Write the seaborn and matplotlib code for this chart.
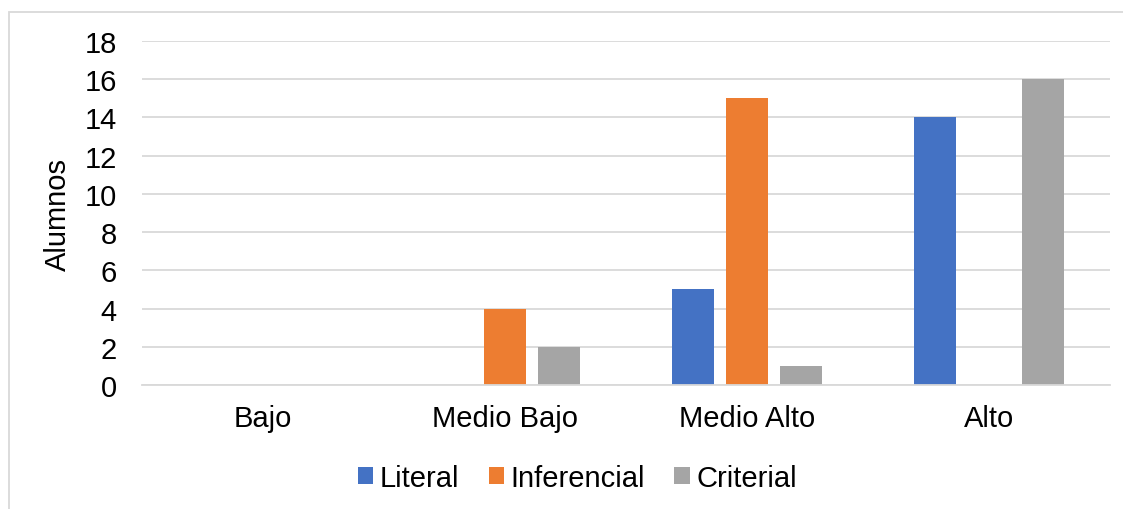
import matplotlib
matplotlib.use("Agg")
import matplotlib.pyplot as plt
from matplotlib.patches import Rectangle
import seaborn as sns
import pandas as pd

categories = ["Bajo", "Medio Bajo", "Medio Alto", "Alto"]
literal = [0, 0, 5, 14]
inferencial = [0, 4, 15, 0]
criterial = [0, 2, 1, 16]
series_names = ["Literal", "Inferencial", "Criterial"]
colors = ["#4472C4", "#ED7D31", "#A5A5A5"]
y_ticks = [0, 2, 4, 6, 8, 10, 12, 14, 16, 18]

df = pd.DataFrame({
    "Nivel": categories * 3,
    "Tipo": [s for s in series_names for _ in categories],
    "Alumnos": literal + inferencial + criterial,
})

sns.set_theme(style="white")
plt.rcParams["font.family"] = ["Liberation Sans", "DejaVu Sans"]
plt.rcParams["text.color"] = "#000000"

fig = plt.figure(figsize=(11.23, 5.10), dpi=100)
ax = fig.add_axes([0.1264, 0.2431, 0.862, 0.6745])

sns.barplot(data=df, x="Nivel", y="Alumnos", hue="Tipo", order=categories,
            hue_order=series_names, palette=colors, width=0.669, gap=0.222,
            saturation=1, linewidth=0, ax=ax, legend=True)

ax.set_ylim(0, 18)
ax.set_xlim(-0.5, 3.5)
ax.set_yticks(y_ticks)
ax.set_yticklabels([str(t) for t in y_ticks])
ax.yaxis.grid(True, color="#D9D9D9", linewidth=1.3)
ax.set_axisbelow(True)
for side in ["left", "right", "top"]:
    ax.spines[side].set_visible(False)
ax.spines["bottom"].set_color("#D9D9D9")
ax.spines["bottom"].set_linewidth(1.3)
ax.tick_params(axis="y", labelsize=21, labelcolor="#000000", length=0, pad=18)
ax.tick_params(axis="x", labelsize=21, labelcolor="#000000", length=0, pad=14)
ax.set_xlabel("")
ax.set_ylabel("Alumnos", fontsize=21, color="#000000", labelpad=9)

leg = ax.legend(loc="center", bbox_to_anchor=(0.45, -0.27), ncol=3, frameon=False,
                fontsize=21, handlelength=0.52, handleheight=0.52,
                handletextpad=0.24, columnspacing=1.0)
for t in leg.get_texts():
    t.set_color("#000000")

# chart frame
fig.patches.append(Rectangle((9 / 1123, -0.05), 1.1, 1 - 13 / 510 + 0.05,
                             transform=fig.transFigure, fill=False,
                             edgecolor="#D9D9D9", linewidth=1.3))

fig.savefig("out.png", dpi=100)
